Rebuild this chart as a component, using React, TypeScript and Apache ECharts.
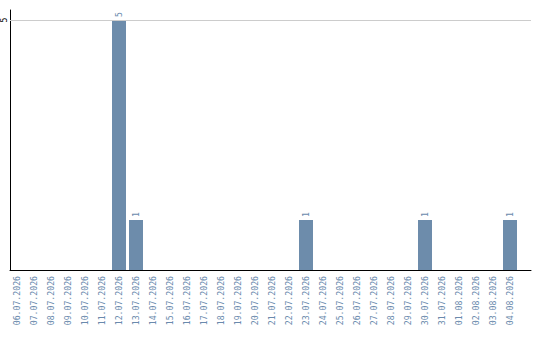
import React, { useEffect, useRef } from "react";
import * as echarts from "echarts";

// Daily counts, 06.07.2026 – 04.08.2026
const dates: string[] = [
  "06.07.2026", "07.07.2026", "08.07.2026", "09.07.2026", "10.07.2026",
  "11.07.2026", "12.07.2026", "13.07.2026", "14.07.2026", "15.07.2026",
  "16.07.2026", "17.07.2026", "18.07.2026", "19.07.2026", "20.07.2026",
  "21.07.2026", "22.07.2026", "23.07.2026", "24.07.2026", "25.07.2026",
  "26.07.2026", "27.07.2026", "28.07.2026", "29.07.2026", "30.07.2026",
  "31.07.2026", "01.08.2026", "02.08.2026", "03.08.2026", "04.08.2026",
];
const counts: number[] = [
  0, 0, 0, 0, 0, 0, 5, 1, 0, 0,
  0, 0, 0, 0, 0, 0, 0, 1, 0, 0,
  0, 0, 0, 0, 1, 0, 0, 0, 0, 1,
];
const yTicks: number[] = [5];

const BAR = "#6d8cab";
const TEXT = "#6a8aad";
const FONT = "DejaVu Sans Mono";

export default function App() {
  const ref = useRef<HTMLDivElement>(null);

  useEffect(() => {
    if (!ref.current) return;
    const chart = echarts.init(ref.current, null, { renderer: "svg" });
    const idx = dates.map((_, i) => i);
    const span = 521 / 17;
    const xMin = -7 / 17;

    chart.setOption({
      animation: false,
      grid: { left: 10, right: 9, top: 10, height: 260 },
      xAxis: {
        type: "value",
        min: xMin,
        max: xMin + span,
        axisLine: { show: true, onZero: false, lineStyle: { color: "#000", width: 1 } },
        axisTick: { show: false },
        splitLine: { show: false },
        axisLabel: {
          customValues: idx,
          rotate: 90,
          margin: 6,
          color: TEXT,
          fontFamily: FONT,
          fontSize: 8.2,
          formatter: (v: number) => dates[Math.round(v)] ?? "",
        },
      },
      yAxis: {
        type: "value",
        min: 0,
        max: 5.2,
        axisLine: { show: true, onZero: false, lineStyle: { color: "#000", width: 1 } },
        axisTick: { show: false },
        splitLine: { show: false },
        axisLabel: {
          customValues: yTicks,
          rotate: 90,
          margin: 2,
          color: "#000",
          fontFamily: FONT,
          fontSize: 8.2,
        },
      },
      series: [
        {
          type: "bar",
          barWidth: 14,
          itemStyle: { color: BAR },
          data: counts.map((c, i) => [i, c]),
          label: {
            show: true,
            position: "top",
            rotate: 90,
            align: "left",
            verticalAlign: "middle",
            distance: 3,
            color: TEXT,
            fontFamily: FONT,
            fontSize: 8.2,
            formatter: (p: any) => (p.value[1] > 0 ? String(p.value[1]) : ""),
          },
          // horizontal guide at each y tick
          markLine: {
            silent: true,
            symbol: "none",
            label: { show: false },
            lineStyle: { color: "#cccccc", width: 1, type: "solid" },
            data: yTicks.map((t) => ({ yAxis: t })),
          },
          z: 3,
        },
      ],
    });

    return () => chart.dispose();
  }, []);

  return (
    <div
      ref={ref}
      style={{ position: "absolute", left: 0, top: 0, width: 540, height: 340 }}
    />
  );
}
